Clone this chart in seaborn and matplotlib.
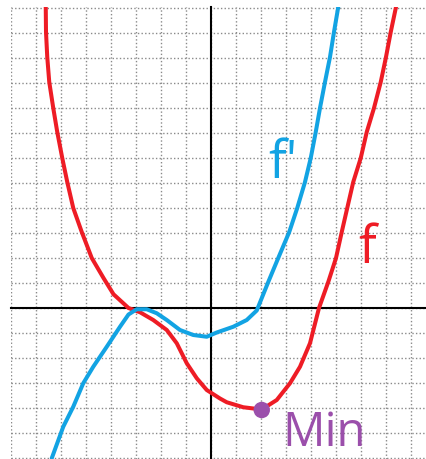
import numpy as np
import pandas as pd
import seaborn as sns
import matplotlib.pyplot as plt

# f (red), grid unit = 1
f_x = [-6.61, -6.6, -6.55, -6.47, -6.31, -6.15, -5.95, -5.75, -5.51, -5.17, -4.77, -4.3,
       -3.9, -3.3, -2.84, -2.31, -1.77, -1.37, -0.97, -0.57, -0.17, 0.36, 0.63, 1.29,
       2.03, 2.63, 3.16, 3.56, 3.96, 4.32, 4.69, 5.0, 5.23, 5.45, 5.69, 5.99, 6.23,
       6.52, 6.79, 7.0, 7.19, 7.4]
f_y = [12.04, 11.04, 10.04, 9.04, 8.0, 7.04, 6.0, 5.04, 4.0, 3.04, 2.0, 1.2,
       0.55, 0.0, -0.17, -0.48, -0.88, -1.41, -2.21, -2.81, -3.28, -3.62, -3.77, -3.97,
       -4.06, -3.68, -3.01, -2.35, -1.41, 0.0, 1.04, 2.0, 3.04, 4.0, 5.04, 6.0, 7.04,
       8.0, 9.04, 10.04, 11.04, 12.04]

# f' (blue)
fp_x = [-6.37, -5.91, -5.51, -5.11, -4.71, -4.17, -3.64, -3.3, -2.97, -2.57, -2.17, -1.77,
        -1.24, -0.71, -0.17, 0.23, 0.89, 1.43, 1.83, 2.29, 2.69, 3.13, 3.45, 3.76, 3.99,
        4.19, 4.36, 4.56, 4.76, 4.92, 5.09]
fp_y = [-6.01, -4.75, -3.95, -3.01, -2.35, -1.55, -0.75, -0.26, -0.05, -0.05, -0.21, -0.48,
        -0.88, -1.08, -1.15, -0.98, -0.75, -0.48, -0.1, 1.04, 2.0, 3.04, 4.0, 5.04, 6.0,
        7.04, 8.0, 9.04, 10.04, 11.04, 12.04]

min_x = [2.03]
min_y = [-4.08]

red = "#ee1c25"
blue = "#12a3e3"
purple = "#9b4fab"

df_f = pd.DataFrame({"x": f_x, "y": f_y})
df_fp = pd.DataFrame({"x": fp_x, "y": fp_y})
df_min = pd.DataFrame({"x": min_x, "y": min_y})

sns.set_style("white")
plt.rcParams["font.family"] = ["Open Sans", "DejaVu Sans"]

fig = plt.figure(figsize=(4.27, 4.59), dpi=100)
ax = fig.add_axes([11 / 427, 0, 416 / 427, 452 / 459])

sns.lineplot(data=df_f, x="x", y="y", sort=False, estimator=None, color=red, lw=2.9, ax=ax, zorder=3)
sns.lineplot(data=df_fp, x="x", y="y", sort=False, estimator=None, color=blue, lw=2.9, ax=ax, zorder=3)
sns.scatterplot(data=df_min, x="x", y="y", color=purple, s=140, edgecolor="none", ax=ax, zorder=4)

ax.set_xlim(-8, 8.64)
ax.set_ylim(-6.04, 12.04)
ax.set_xticks(np.arange(-8, 9))
ax.set_yticks(np.arange(-6, 13))
ax.set_xticklabels([])
ax.set_yticklabels([])
ax.set_xlabel("")
ax.set_ylabel("")

# axes through the origin
for side in ["top", "right"]:
    ax.spines[side].set_visible(False)
ax.spines["left"].set_position("zero")
ax.spines["bottom"].set_position("zero")
for side in ["left", "bottom"]:
    ax.spines[side].set_linewidth(1.5)
    ax.spines[side].set_color("black")
    ax.spines[side].set_zorder(2)
ax.tick_params(direction="inout", length=7, width=1.4, color="black")

ax.grid(True, linestyle=(0, (1, 1.6)), color="#8a8a8a", linewidth=1.0)
ax.set_axisbelow(True)

ax.text(2.28, 5.2, "f'", color=blue, fontsize=38, ha="left", va="baseline")
ax.text(5.88, 1.8, "f", color=red, fontsize=38, ha="left", va="baseline")
ax.text(2.84, -5.5, "Min", color=purple, fontsize=34, ha="left", va="baseline")

fig.savefig("out.png", dpi=100)
